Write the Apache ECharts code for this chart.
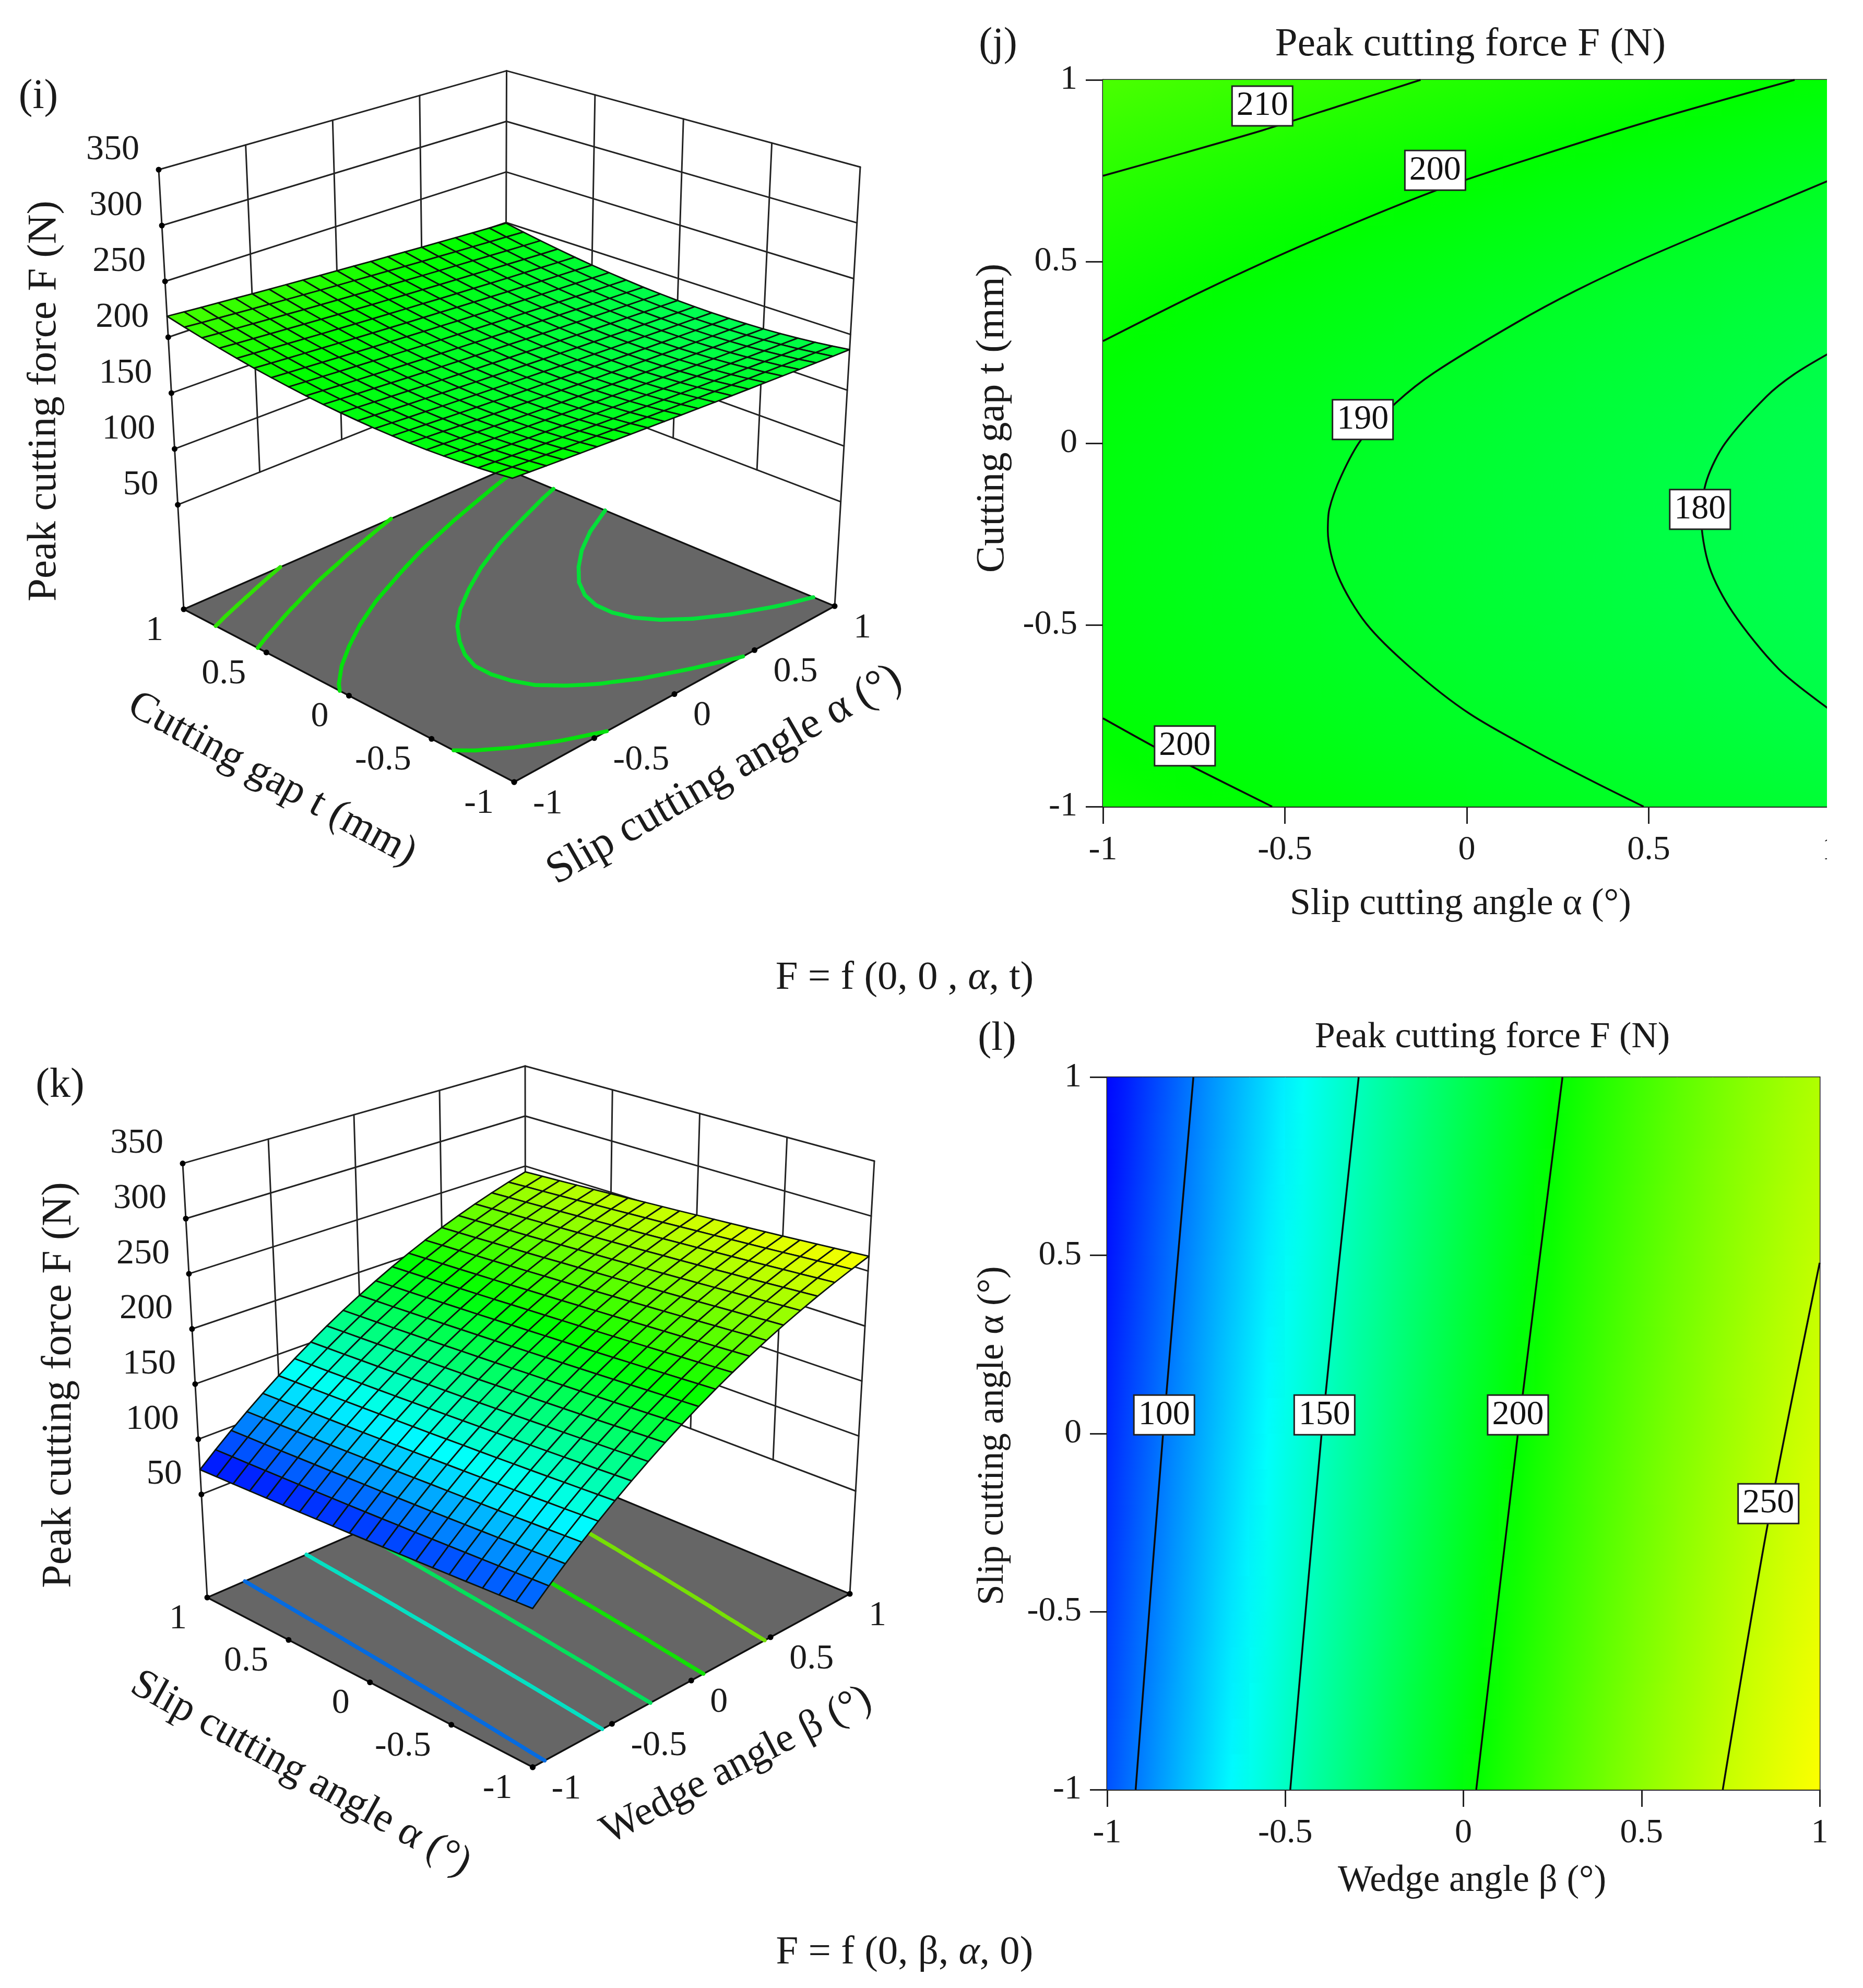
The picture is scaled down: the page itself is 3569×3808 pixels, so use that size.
<!DOCTYPE html>
<html><head><meta charset="utf-8">
<style>html,body{margin:0;padding:0;background:#fff}#c{width:3569px;height:3808px}</style>
<script src="https://cdn.jsdelivr.net/npm/echarts@6/dist/echarts.min.js"></script>
</head><body><div id="c"></div>
<script>
// ---------- values ----------
const gridSteps = [-1,-0.9,-0.8,-0.7,-0.6,-0.5,-0.4,-0.3,-0.2,-0.1,0,0.1,0.2,0.3,0.4,0.5,0.6,0.7,0.8,0.9,1];
const axisTicks = [-1,-0.5,0,0.5,1];
const axisTickLabels = ['-1','-0.5','0','0.5','1'];
const forceTicks = [50,100,150,200,250,300,350];
const forceTickLabels = ['50','100','150','200','250','300','350'];
const colourValues = [72,134,200,264,332];
const colourStops = [[0,0,255],[0,255,255],[0,255,0],[255,255,0],[255,0,0]];

// F(alpha, t): rows t = -1..1, columns alpha = -1..1
const forceAlphaGap = [
[203.0,202.1,201.1,200.2,199.3,198.5,197.6,196.7,195.9,195.0,194.2,193.4,192.5,191.7,190.9,190.2,189.4,188.6,187.9,187.1,186.4],
[201.2,200.3,199.3,198.4,197.5,196.6,195.8,194.9,194.0,193.2,192.3,191.5,190.7,189.9,189.1,188.3,187.5,186.7,185.9,185.2,184.5],
[199.7,198.7,197.8,196.9,196.0,195.1,194.2,193.3,192.4,191.6,190.7,189.9,189.1,188.2,187.4,186.6,185.9,185.1,184.3,183.5,182.8],
[198.4,197.5,196.6,195.6,194.7,193.8,192.9,192.0,191.1,190.3,189.4,188.6,187.7,186.9,186.1,185.3,184.5,183.7,182.9,182.2,181.4],
[197.5,196.5,195.6,194.6,193.7,192.8,191.9,191.0,190.1,189.2,188.4,187.5,186.7,185.9,185.0,184.2,183.4,182.6,181.8,181.1,180.3],
[196.7,195.8,194.8,193.9,193.0,192.0,191.1,190.2,189.3,188.5,187.6,186.7,185.9,185.0,184.2,183.4,182.6,181.8,181.0,180.2,179.4],
[196.3,195.3,194.4,193.4,192.5,191.6,190.7,189.8,188.9,188.0,187.1,186.2,185.4,184.5,183.7,182.9,182.0,181.2,180.4,179.7,178.9],
[196.2,195.2,194.2,193.3,192.3,191.4,190.5,189.5,188.6,187.8,186.9,186.0,185.1,184.3,183.4,182.6,181.8,181.0,180.2,179.4,178.6],
[196.3,195.3,194.3,193.4,192.4,191.5,190.5,189.6,188.7,187.8,186.9,186.0,185.2,184.3,183.4,182.6,181.8,180.9,180.1,179.3,178.5],
[196.7,195.7,194.7,193.7,192.8,191.8,190.9,189.9,189.0,188.1,187.2,186.3,185.5,184.6,183.7,182.9,182.0,181.2,180.4,179.6,178.8],
[197.3,196.3,195.3,194.4,193.4,192.4,191.5,190.6,189.6,188.7,187.8,186.9,186.0,185.2,184.3,183.4,182.6,181.8,180.9,180.1,179.3],
[198.2,197.2,196.2,195.3,194.3,193.3,192.4,191.4,190.5,189.6,188.7,187.8,186.9,186.0,185.1,184.3,183.4,182.6,181.7,180.9,180.1],
[199.4,198.4,197.4,196.4,195.4,194.5,193.5,192.6,191.6,190.7,189.8,188.9,188.0,187.1,186.2,185.3,184.5,183.6,182.8,182.0,181.1],
[200.9,199.9,198.9,197.9,196.9,195.9,195.0,194.0,193.0,192.1,191.2,190.3,189.4,188.5,187.6,186.7,185.8,185.0,184.1,183.3,182.5],
[202.6,201.6,200.6,199.6,198.6,197.6,196.6,195.7,194.7,193.8,192.9,191.9,191.0,190.1,189.2,188.3,187.5,186.6,185.8,184.9,184.1],
[204.6,203.6,202.6,201.6,200.6,199.6,198.6,197.6,196.7,195.7,194.8,193.9,192.9,192.0,191.1,190.2,189.4,188.5,187.6,186.8,185.9],
[206.9,205.9,204.9,203.8,202.8,201.8,200.9,199.9,198.9,198.0,197.0,196.1,195.1,194.2,193.3,192.4,191.5,190.7,189.8,188.9,188.1],
[209.5,208.4,207.4,206.4,205.4,204.4,203.4,202.4,201.4,200.4,199.5,198.5,197.6,196.7,195.8,194.9,194.0,193.1,192.2,191.3,190.5],
[212.3,211.2,210.2,209.2,208.2,207.1,206.1,205.1,204.2,203.2,202.2,201.3,200.3,199.4,198.5,197.6,196.7,195.8,194.9,194.0,193.2],
[215.4,214.3,213.3,212.3,211.2,210.2,209.2,208.2,207.2,206.2,205.3,204.3,203.4,202.4,201.5,200.6,199.7,198.8,197.9,197.0,196.1],
[218.8,217.7,216.6,215.6,214.6,213.5,212.5,211.5,210.5,209.5,208.6,207.6,206.6,205.7,204.8,203.8,202.9,202.0,201.1,200.2,199.4]
];
// F(beta, alpha): rows alpha = -1..1, columns beta = -1..1
const forceBetaAlpha = [
[91.6,104,116,127.6,138.8,149.6,159.9,169.9,179.5,188.7,197.5,205.9,213.9,221.5,228.7,235.5,241.8,247.8,253.4,258.6,263.4],
[90.6,103,115,126.6,137.8,148.6,158.9,168.9,178.5,187.7,196.5,204.9,212.9,220.5,227.7,234.5,240.8,246.8,252.4,257.6,262.4],
[89.5,101.9,113.9,125.5,136.7,147.5,157.8,167.8,177.4,186.6,195.4,203.8,211.8,219.4,226.6,233.4,239.7,245.7,251.3,256.5,261.3],
[88.5,100.9,112.9,124.5,135.7,146.5,156.8,166.8,176.4,185.6,194.4,202.8,210.8,218.4,225.6,232.4,238.7,244.7,250.3,255.5,260.3],
[87.4,99.8,111.8,123.4,134.6,145.4,155.7,165.7,175.3,184.5,193.3,201.7,209.7,217.3,224.5,231.3,237.6,243.6,249.2,254.4,259.2],
[86.4,98.8,110.8,122.4,133.6,144.4,154.7,164.7,174.3,183.5,192.3,200.7,208.7,216.3,223.5,230.3,236.6,242.6,248.2,253.4,258.2],
[85.4,97.8,109.8,121.4,132.6,143.4,153.7,163.7,173.3,182.5,191.3,199.7,207.7,215.3,222.5,229.3,235.6,241.6,247.2,252.4,257.2],
[84.4,96.8,108.8,120.4,131.6,142.4,152.7,162.7,172.3,181.5,190.3,198.7,206.7,214.3,221.5,228.3,234.6,240.6,246.2,251.4,256.2],
[83.4,95.8,107.8,119.4,130.6,141.4,151.7,161.7,171.3,180.5,189.3,197.7,205.7,213.3,220.5,227.3,233.6,239.6,245.2,250.4,255.2],
[82.5,94.9,106.9,118.5,129.7,140.5,150.8,160.8,170.4,179.6,188.4,196.8,204.8,212.4,219.6,226.4,232.7,238.7,244.3,249.5,254.3],
[81.5,93.9,105.9,117.5,128.7,139.5,149.8,159.8,169.4,178.6,187.4,195.8,203.8,211.4,218.6,225.4,231.7,237.7,243.3,248.5,253.3],
[80.5,92.9,104.9,116.5,127.7,138.5,148.8,158.8,168.4,177.6,186.4,194.8,202.8,210.4,217.6,224.4,230.7,236.7,242.3,247.5,252.3],
[79.6,92,104,115.6,126.8,137.6,147.9,157.9,167.5,176.7,185.5,193.9,201.9,209.5,216.7,223.5,229.8,235.8,241.4,246.6,251.4],
[78.7,91.1,103.1,114.7,125.9,136.7,147,157,166.6,175.8,184.6,193,201,208.6,215.8,222.6,228.9,234.9,240.5,245.7,250.5],
[77.7,90.1,102.1,113.7,124.9,135.7,146,156,165.6,174.8,183.6,192,200,207.6,214.8,221.6,227.9,233.9,239.5,244.7,249.5],
[76.8,89.2,101.2,112.8,124,134.8,145.1,155.1,164.7,173.9,182.7,191.1,199.1,206.7,213.9,220.7,227,233,238.6,243.8,248.6],
[75.9,88.3,100.3,111.9,123.1,133.9,144.2,154.2,163.8,173,181.8,190.2,198.2,205.8,213,219.8,226.1,232.1,237.7,242.9,247.7],
[75,87.4,99.4,111,122.2,133,143.3,153.3,162.9,172.1,180.9,189.3,197.3,204.9,212.1,218.9,225.2,231.2,236.8,242,246.8],
[74.1,86.5,98.5,110.1,121.3,132.1,142.4,152.4,162,171.2,180,188.4,196.4,204,211.2,218,224.3,230.3,235.9,241.1,245.9],
[73.3,85.7,97.7,109.3,120.5,131.3,141.6,151.6,161.2,170.4,179.2,187.6,195.6,203.2,210.4,217.2,223.5,229.5,235.1,240.3,245.1],
[72.4,84.8,96.8,108.4,119.6,130.4,140.7,150.7,160.3,169.5,178.3,186.7,194.7,202.3,209.5,216.3,222.6,228.6,234.2,239.4,244.2]
];
// contour lines of panel (j): [alpha, t]
const contourJ210 = [[-1,.736],[-.78,.798],[-.562,.861],[-.345,.93],[-.127,1]];
const contourJ200Upper = [[-1,.281],[-.717,.423],[-.433,.553],[-.087,.695],[.196,.79],[.511,.889],[.901,1]];
const contourJ200Lower = [[-1,-.757],[-.858,-.836],[-.763,-.886],[-.535,-1]];
const contourJ190 = [[1,.725],[.75,.62],[.48,.505],[.3,.42],[.135,.331],[-.09,.194],[-.195,.111],[-.29,.01],[-.345,-.09],[-.378,-.182],[-.382,-.241],[-.354,-.365],[-.276,-.497],[-.151,-.621],[.007,-.744],[.196,-.852],[.353,-.934],[.486,-1]];
const contourJ180 = [[1,.25],[.9,.19],[.824,.129],[.71,0],[.66,-.1],[.644,-.2],[.667,-.341],[.73,-.464],[.857,-.621],[1,-.735]];
const labelsJ = [[-.562,.928,'210'],[-.087,.751,'200'],[-.286,.065,'190'],[.641,-.182,'180'],[-.775,-.833,'200']];
// contour lines of panel (l): [beta, alpha]
const contourL100 = [[-.758,1],[-.843,0],[-.92,-1]];
const contourL150 = [[-.294,1],[-.398,0],[-.486,-1]];
const contourL200 = [[.278,1],[.153,0],[.036,-1]];
const contourL250 = [[1,.479],[.856,-.245],[.728,-1]];
const labelsL = [[-.84,.052,'100'],[-.39,.052,'150'],[.153,.052,'200'],[.856,-.197,'250']];
// contour levels shown on the floors of the 3-D panels
const floorLevelsI = [184,190.7,197.8,205.8,212.5];
const floorLevelsK = [101,143,174,204,233];

// ---------- helpers ----------
const FONT = '"Liberation Serif","Times New Roman",serif';
const FLOOR_Z = -43.5, TOP_Z = 350;
function colourOf(v, k) {
  k = k || 1;
  let i = 0;
  while (i < colourValues.length - 2 && v > colourValues[i + 1]) i++;
  let f = (v - colourValues[i]) / (colourValues[i + 1] - colourValues[i]);
  f = Math.max(0, Math.min(1, f));
  const c = colourStops[i].map((s, n) => Math.round((s + (colourStops[i + 1][n] - s) * f) * k + 34 * (1 - k)));
  return 'rgb(' + c.join(',') + ')';
}
// box: floor / top corners in the order (a=-1,t=1) (1,1) (1,-1) (-1,-1)
function makeProjection(box) {
  const bil = (q, a, t) => {
    const u = (a + 1) / 2, v = (t + 1) / 2;
    return [0, 1].map(n => q[3][n] * (1 - u) * (1 - v) + q[2][n] * u * (1 - v) + q[1][n] * u * v + q[0][n] * (1 - u) * v);
  };
  return (a, t, z) => {
    const s = (z - FLOOR_Z) / (TOP_Z - FLOOR_Z), f = bil(box.floor, a, t), h = bil(box.top, a, t);
    return [f[0] + (h[0] - f[0]) * s, f[1] + (h[1] - f[1]) * s];
  };
}
function marching(matrix, level) {
  const segs = [];
  for (let r = 0; r < 20; r++) for (let c = 0; c < 20; c++) {
    const cs = [[c, r], [c + 1, r], [c + 1, r + 1], [c, r + 1]];
    const pts = [];
    for (let e = 0; e < 4; e++) {
      const p = cs[e], q = cs[(e + 1) % 4];
      const u = matrix[p[1]][p[0]], v = matrix[q[1]][q[0]];
      if ((u < level) !== (v < level)) {
        const f = (level - u) / (v - u);
        pts.push([gridSteps[p[0]] + (gridSteps[q[0]] - gridSteps[p[0]]) * f, gridSteps[p[1]] + (gridSteps[q[1]] - gridSteps[p[1]]) * f]);
      }
    }
    if (pts.length >= 2) segs.push([pts[0], pts[1]]);
    if (pts.length === 4) segs.push([pts[2], pts[3]]);
  }
  return segs;
}
function overlaySeries(name, items, draw, z) {
  return { type: 'custom', name, coordinateSystem: 'cartesian2d', xAxisIndex: 0, yAxisIndex: 0, silent: true, z,
    data: items.map((_, i) => [i, 0]), renderItem: (p, api) => draw(items[p.dataIndex], api) };
}
const segDraw = (stroke, width) => (s, api) => {
  const a = api.coord(s[0]), b = api.coord(s[1]);
  return { type: 'line', shape: { x1: a[0], y1: a[1], x2: b[0], y2: b[1] }, style: { stroke, lineWidth: width, lineCap: 'round' } };
};
const textDraw = (s, api) => {
  const a = api.coord([s.x, s.y]);
  return { type: 'text', x: a[0], y: a[1], style: { text: s.text, x: 0, y: 0, fill: '#1a1a1a', fontSize: 68, fontFamily: FONT, align: s.align, verticalAlign: 'middle' } };
};
function build3D(box, matrix, levels) {
  const P = makeProjection(box), out = [];
  const floor = [P(-1, 1, FLOOR_Z), P(1, 1, FLOOR_Z), P(1, -1, FLOOR_Z), P(-1, -1, FLOOR_Z)];
  out.push(overlaySeries('floor', [floor], (f, api) => ({ type: 'polygon', shape: { points: f.map(p => api.coord(p)) },
    style: { fill: '#666666', stroke: '#111', lineWidth: 3.5, lineJoin: 'round' } }), 2));
  const walls = [];
  forceTicks.forEach(z => {
    walls.push([P(-1, 1, z), P(1, 1, z)], [P(1, 1, z), P(1, -1, z)]);
  });
  [-0.5, 0, 0.5].forEach(v => {
    walls.push([P(v, 1, 50), P(v, 1, 350)], [P(1, v, 50), P(1, v, 350)]);
  });
  [[-1, 1], [1, 1], [1, -1]].forEach(c => walls.push([P(c[0], c[1], FLOOR_Z), P(c[0], c[1], 350)]));
  out.push(overlaySeries('walls', walls, segDraw('#222', 3), 1));
  levels.forEach(lv => {
    const segs = marching(matrix, lv).map(s => [P(s[0][0], s[0][1], FLOOR_Z), P(s[1][0], s[1][1], FLOOR_Z)]);
    out.push(overlaySeries('floor contour ' + lv, segs, segDraw(colourOf(lv, .86), 7.5), 3));
  });
  const dots = [], labels = [];
  forceTicks.forEach((z, i) => {
    const p = P(-1, 1, z); dots.push(p);
    labels.push({ x: p[0] - 37, y: p[1] - 38, text: forceTickLabels[i], align: 'right' });
  });
  axisTicks.forEach((v, i) => {
    const p = P(-1, v, FLOOR_Z), q = P(v, -1, FLOOR_Z);
    dots.push(p, q);
    labels.push({ x: p[0] - 39, y: p[1] + 41, text: axisTickLabels[i], align: 'right' });
    labels.push({ x: q[0] + 36, y: q[1] + 42, text: axisTickLabels[i], align: 'left' });
  });
  out.push(overlaySeries('tick dots', dots, (p, api) => {
    const a = api.coord(p);
    return { type: 'circle', shape: { cx: a[0], cy: a[1], r: 5.5 }, style: { fill: '#000' } };
  }, 4));
  out.push(overlaySeries('tick labels', labels, textDraw, 4));
  const quads = [];
  for (let r = 19; r >= 0; r--) for (let c = 19; c >= 0; c--) {
    const v = [matrix[r][c], matrix[r][c + 1], matrix[r + 1][c + 1], matrix[r + 1][c]];
    quads.push({
      pts: [P(gridSteps[c], gridSteps[r], v[0]), P(gridSteps[c + 1], gridSteps[r], v[1]), P(gridSteps[c + 1], gridSteps[r + 1], v[2]), P(gridSteps[c], gridSteps[r + 1], v[3])],
      val: (v[0] + v[1] + v[2] + v[3]) / 4
    });
  }
  out.push(overlaySeries('surface', quads, (q, api) => ({ type: 'polygon', shape: { points: q.pts.map(p => api.coord(p)) },
    style: { fill: colourOf(q.val), stroke: '#0c140c', lineWidth: 2.8, lineJoin: 'round' } }), 5));
  return out;
}
function heatSeries(matrix, axisIdx) {
  const cells = [];
  for (let r = 0; r < 20; r++) for (let c = 0; c < 20; c++) cells.push([c, r]);
  return { type: 'custom', name: 'force field', coordinateSystem: 'cartesian2d', xAxisIndex: axisIdx, yAxisIndex: axisIdx, silent: true, z: 1, clip: true,
    data: cells.map(([c, r]) => [gridSteps[c], gridSteps[r], gridSteps[c + 1], gridSteps[r + 1], matrix[r][c], matrix[r][c + 1], matrix[r + 1][c], matrix[r + 1][c + 1]]),
    renderItem: (p, api) => {
      const a = api.coord([api.value(0), api.value(1)]), b = api.coord([api.value(2), api.value(3)]);
      const v00 = api.value(4), v10 = api.value(5), v01 = api.value(6), v11 = api.value(7);
      const w = b[0] - a[0], h = b[1] - a[1];
      const gx = (v10 + v11 - v00 - v01) / 2 / w, gy = (v01 + v11 - v00 - v10) / 2 / h;
      const g = Math.hypot(gx, gy) || 1e-6, R = Math.hypot(w, h) / 2;
      const cx = a[0] + w / 2, cy = a[1] + h / 2, vc = (v00 + v10 + v01 + v11) / 4;
      const dx = gx / g * R, dy = gy / g * R;
      return { type: 'rect', shape: { x: a[0] - .5, y: b[1] - .5, width: w + 1, height: -h + 1 },
        style: { fill: { type: 'linear', global: true, x: cx - dx, y: cy - dy, x2: cx + dx, y2: cy + dy,
          colorStops: [{ offset: 0, color: colourOf(vc - g * R) }, { offset: .5, color: colourOf(vc) }, { offset: 1, color: colourOf(vc + g * R) }] } } };
    } };
}
const contourLine = (name, data, idx) => ({ type: 'line', name, data, xAxisIndex: idx, yAxisIndex: idx, smooth: .3, showSymbol: false, symbol: 'none', z: 5, silent: true,
  lineStyle: { color: '#0a0a0a', width: 3.5 } });
const labelSeries = (items, idx) => ({ type: 'custom', name: 'contour labels', coordinateSystem: 'cartesian2d', xAxisIndex: idx, yAxisIndex: idx, z: 6, silent: true,
  data: items.map(d => [d[0], d[1]]),
  renderItem: (p, api) => {
    const a = api.coord([api.value(0), api.value(1)]);
    return { type: 'group', children: [
      { type: 'rect', shape: { x: a[0] - 58, y: a[1] - 38, width: 116, height: 76 }, style: { fill: '#fff', stroke: '#222', lineWidth: 3 } },
      { type: 'text', x: a[0], y: a[1], style: { text: items[p.dataIndex][2], x: 0, y: 0, fill: '#111', fontFamily: FONT, fontSize: 66, align: 'center', verticalAlign: 'middle' } }
    ] };
  } });
const valueAxis = (gridIndex) => ({ type: 'value', gridIndex, min: -1, max: 1, interval: .5, splitLine: { show: false },
  axisLine: { show: true, onZero: false, lineStyle: { color: '#222', width: 3 } },
  axisTick: { show: true, length: 33, lineStyle: { color: '#222', width: 3 } } });
const xAx = g => Object.assign(valueAxis(g), { axisLabel: { color: '#1a1a1a', fontFamily: FONT, fontSize: 66, margin: 51, showMinLabel: true, showMaxLabel: true, hideOverlap: false } });
const yAx = g => Object.assign(valueAxis(g), { axisLabel: { color: '#1a1a1a', fontFamily: FONT, fontSize: 66, margin: 49, padding: [0, 0, 20, 0] } });
const hiddenAxis = (min, max) => ({ type: 'value', gridIndex: 0, min, max, show: false });
const T = (text, x, y, size, deg, extra) => ({ type: 'text', x, y, rotation: (deg || 0) * Math.PI / 180, z: 50,
  style: Object.assign({ text, x: 0, y: 0, fill: '#1a1a1a', fontFamily: FONT, fontSize: size, align: 'center', verticalAlign: 'middle' }, extra || {}) });

// ---------- image positions of the two 3-D boxes ----------
const boxI = { floor: [[352,1167],[968,898],[1599,1161],[985,1498]], top: [[304,325],[970.5,135.6],[1648,320],[980,569]] };
const boxK = { floor: [[397,3060],[1007,2796],[1628,3053],[1020.5,3385]], top: [[350,2228.6],[1006,2042],[1675,2224],[1020,2500]] };

const italicRich = { rich: { i: { fontStyle: 'italic', fontFamily: FONT, fontSize: 77, fill: '#1a1a1a' } } };
const chart = echarts.init(document.getElementById('c'));
chart.setOption({
  animation: false, backgroundColor: '#fff',
  grid: [
    { left: 0, top: 0, width: 3569, height: 3808, show: false },
    { left: 2113, top: 153, width: 1394, height: 1392, show: true, backgroundColor: 'transparent', borderColor: '#222', borderWidth: 3 },
    { left: 2121, top: 2063.5, width: 1365, height: 1364.5, show: true, backgroundColor: 'transparent', borderColor: '#222', borderWidth: 3 }
  ],
  xAxis: [hiddenAxis(0, 3569), xAx(1), xAx(2)],
  yAxis: [hiddenAxis(3808, 0), yAx(1), yAx(2)],
  graphic: { elements: [
    { type: 'rect', z: 40, shape: { x: 3500, y: 0, width: 69, height: 1800 }, style: { fill: '#fff' } },
    T('(i)', 73.5, 186, 80), T('(j)', 1912, 86, 78), T('(k)', 115, 2080, 80), T('(l)', 1910, 1991, 78),
    T('Peak cutting force F (N)', 2817, 86, 77), T('Peak cutting force F (N)', 2859, 1988, 70),
    T('Slip cutting angle α (°)', 2798, 1732, 71.5), T('Wedge angle β (°)', 2820, 3603, 71),
    T('Cutting gap t (mm)', 1902, 801, 77, 90), T('Slip cutting angle α (°)', 1902, 2750, 71, 90),
    T('Peak cutting force F (N)', 85, 768, 79, 90), T('Peak cutting force F (N)', 114, 2653, 80, 90),
    T('Cutting gap t (mm)', 521, 1493, 80, -28.5), T('Slip cutting angle α (°)', 1388, 1485, 84, 29.8),
    T('Slip cutting angle α (°)', 576, 3398, 80, -29), T('Wedge angle β (°)', 1411, 3382, 79, 27.5),
    T('F = f (0, 0 , {i|α}, t)', 1733, 1874, 77, 0, italicRich), T('F = f (0, β, {i|α}, 0)', 1733, 3741, 77, 0, italicRich)
  ] },
  series: [
    ...build3D(boxI, forceAlphaGap, floorLevelsI),
    ...build3D(boxK, forceBetaAlpha, floorLevelsK),
    heatSeries(forceAlphaGap, 1),
    contourLine('F = 210', contourJ210, 1), contourLine('F = 200', contourJ200Upper, 1), contourLine('F = 200', contourJ200Lower, 1),
    contourLine('F = 190', contourJ190, 1), contourLine('F = 180', contourJ180, 1), labelSeries(labelsJ, 1),
    heatSeries(forceBetaAlpha, 2),
    contourLine('F = 100', contourL100, 2), contourLine('F = 150', contourL150, 2), contourLine('F = 200', contourL200, 2),
    contourLine('F = 250', contourL250, 2), labelSeries(labelsL, 2)
  ]
});
</script></body></html>
